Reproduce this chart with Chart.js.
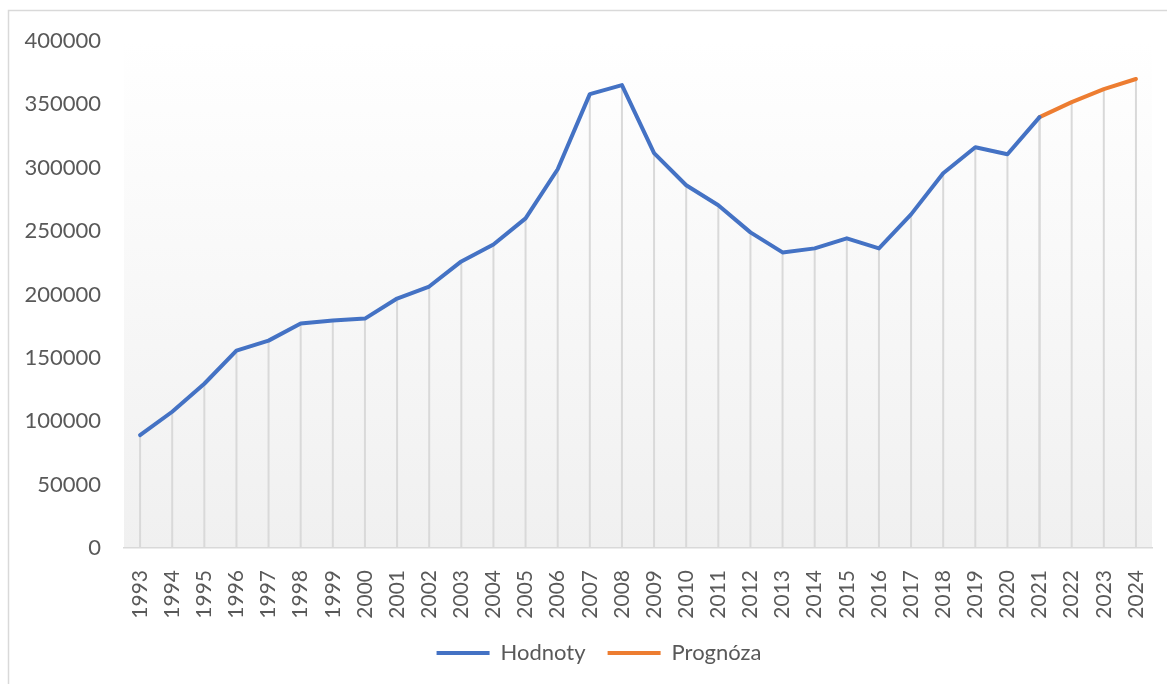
<!DOCTYPE html>
<html>
<head>
<meta charset="utf-8">
<script src="https://cdn.jsdelivr.net/npm/chart.js@4/dist/chart.umd.min.js"></script>
<style>
  html, body { margin: 0; padding: 0; background: #fff; }
  #wrap { width: 1167px; height: 684px; }
</style>
</head>
<body>
<div id="wrap"><canvas id="chart"></canvas></div>
<script>
const years = ['1993', '1994', '1995', '1996', '1997', '1998', '1999', '2000', '2001', '2002',
    '2003', '2004', '2005', '2006', '2007', '2008', '2009', '2010', '2011', '2012',
    '2013', '2014', '2015', '2016', '2017', '2018', '2019', '2020', '2021', '2022',
    '2023', '2024'];

// measured values (last one 2021)
const hodnoty = [89000, 107500, 129600, 155700, 163600, 177100, 179400, 181000, 196800, 206300,
    226100, 239500, 260100, 298800, 358100, 365200, 311500, 286200, 270400, 249000,
    233200, 236400, 244300, 236400, 263200, 295700, 316200, 310700, 339900, null,
    null, null];

// forecast starts at 2021
const prognoza = [null, null, null, null, null, null, null, null, null, null,
    null, null, null, null, null, null, null, null, null, null,
    null, null, null, null, null, null, null, null, 339900, 351800,
    362100, 370000];

const yTicks = [0, 50000, 100000, 150000, 200000, 250000, 300000, 350000, 400000];

//-------------------------------------------------//

const txt = '#595959';
const fontFam = 'Lato, "Open Sans", sans-serif';

// light frame + grey gradient behind the plot area
const backdrop = {
    id: 'backdrop',
    beforeDraw(chart) {
        const c = chart.ctx;
        const a = chart.chartArea;
        c.save();
        c.fillStyle = '#fff';
        c.fillRect(0, 0, chart.width, chart.height);
        c.strokeStyle = '#d9d9d9';
        c.lineWidth = 1.5;
        c.strokeRect(8.5, 10.5, chart.width + 20, chart.height + 20);
        const g = c.createLinearGradient(0, a.top, 0, a.bottom);
        g.addColorStop(0, '#ffffff');
        g.addColorStop(1, '#f0f0f0');
        c.fillStyle = g;
        c.fillRect(a.left, a.top, a.right - a.left, a.bottom - a.top);
        c.restore();
    }
};

// vertical drop lines from each point down to the axis
const dropLines = {
    id: 'dropLines',
    beforeDatasetsDraw(chart) {
        const c = chart.ctx;
        const bottom = chart.scales.y.getPixelForValue(0);
        c.save();
        c.strokeStyle = '#d9d9d9';
        c.lineWidth = 2;
        chart.data.datasets.forEach((ds, i) => {
            const meta = chart.getDatasetMeta(i);
            meta.data.forEach((pt, j) => {
                if (ds.data[j] == null) return;
                c.beginPath();
                c.moveTo(pt.x, pt.y);
                c.lineTo(pt.x, bottom);
                c.stroke();
            });
        });
        c.restore();
    }
};

// the legend sits a bit right of centre in the original
const legendShift = {
    id: 'legendShift',
    afterLayout(chart) {
        chart.legend.left += 23;
        chart.legend.right += 23;
    }
};

const ctx = document.getElementById('chart').getContext('2d');
const chart = new Chart(ctx, {
    type: 'line',
    data: {
        labels: years,
        datasets: [{
            label: 'Hodnoty',
            data: hodnoty,
            borderColor: '#4472C4',
            backgroundColor: '#4472C4',
            borderWidth: 4,
            pointRadius: 0,
            tension: 0,
            borderCapStyle: 'round',
            borderJoinStyle: 'round'
        }, {
            label: 'Prognóza',
            data: prognoza,
            borderColor: '#ED7D31',
            backgroundColor: '#ED7D31',
            borderWidth: 4,
            pointRadius: 0,
            tension: 0,
            borderCapStyle: 'round',
            borderJoinStyle: 'round'
        }]
    },
    options: {
        responsive: true,
        maintainAspectRatio: false,
        animation: false,
        layout: { padding: { top: 41, right: 15, bottom: 10, left: 0 } },
        plugins: {
            tooltip: { enabled: false },
            legend: {
                position: 'bottom',
                labels: {
                    color: txt,
                    font: { family: fontFam, size: 22 },
                    boxWidth: 53,
                    boxHeight: 4,
                    padding: 22,
                    generateLabels(chart) {
                        return chart.data.datasets.map((ds, i) => ({
                            text: ds.label,
                            fillStyle: ds.borderColor,
                            strokeStyle: ds.borderColor,
                            lineWidth: 0,
                            fontColor: txt,
                            datasetIndex: i
                        }));
                    }
                }
            }
        },
        scales: {
            x: {
                offset: true,
                grid: { display: false },
                border: { display: true, color: '#d9d9d9', width: 1.5 },
                ticks: {
                    color: txt,
                    font: { family: fontFam, size: 21 },
                    minRotation: 90,
                    maxRotation: 90,
                    autoSkip: false,
                    padding: 14
                },
                afterFit(scale) {
                    scale.height = 72;
                    scale.paddingLeft = 0;
                    scale.paddingRight = 0;
                }
            },
            y: {
                min: 0,
                max: 400000,
                afterBuildTicks(scale) { scale.ticks = yTicks.map(v => ({ value: v })); },
                grid: { display: false },
                border: { display: false },
                ticks: {
                    color: txt,
                    font: { family: fontFam, size: 22 },
                    padding: 15,
                    callback: v => String(v)
                },
                afterFit(scale) {
                    scale.width = 124;
                    scale.paddingTop = 0;
                    scale.paddingBottom = 0;
                }
            }
        }
    },
    plugins: [backdrop, dropLines, legendShift]
});
</script>
</body>
</html>
